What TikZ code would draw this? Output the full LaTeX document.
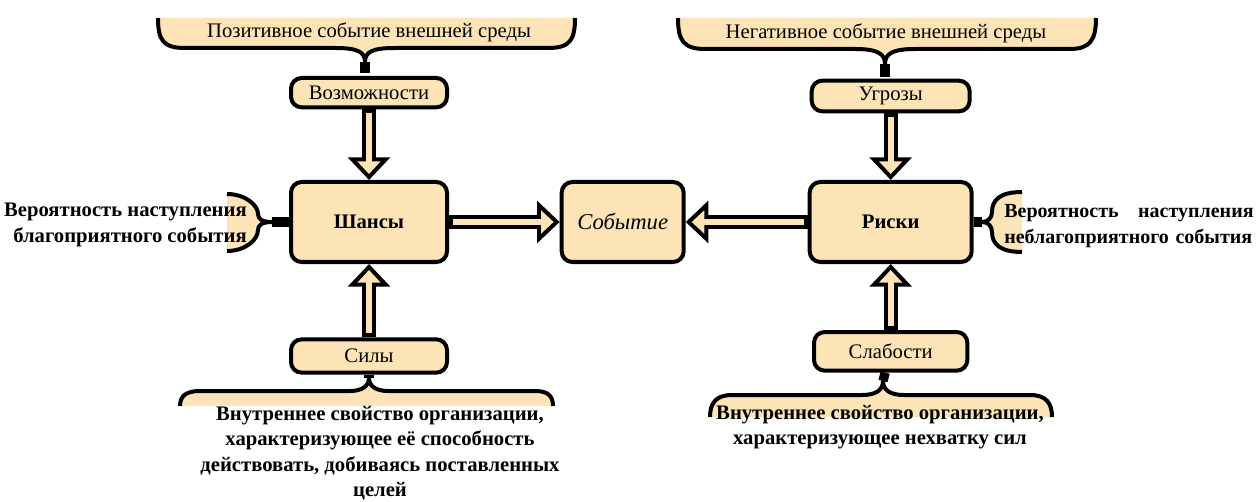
\documentclass[tikz,border=0pt]{standalone}
\usepackage{fontspec}
\setmainfont{Liberation Serif}
\newfontfamily\timesfont{Liberation Serif}
\usetikzlibrary{positioning,arrows.meta}
\definecolor{beige}{HTML}{FDE4B6}
\tikzset{
  box/.style={draw, line width=3pt, rounded corners=8pt, fill=beige, inner sep=0pt, font=\timesfont\fontsize{15.5}{18}\selectfont},
  hollow/.style={line width=10.5pt, -{Triangle[length=17pt, width=31pt]},
    postaction={draw=beige, line width=4.5pt, shorten <=3pt, shorten >=4.5pt, -{Triangle[length=9.5pt, width=17pt]}}},
  brace/.style={draw, fill=beige, line width=3pt, line join=round},
  stem/.style={line width=7pt},
  note/.style={font=\timesfont\bfseries\fontsize{15.5}{19}\selectfont, inner sep=0pt},
  label/.style={font=\timesfont\fontsize{15.5}{18}\selectfont, inner sep=0pt},
}

\begin{document}
\begin{tikzpicture}[x=0.75pt, y=-0.75pt]
  \useasboundingbox (0,0) rectangle (1259,502);

  % Braces
  \path[brace] (158,18) .. controls (158,40) and (163,48) .. (185,48) -- (335,48)
    .. controls (358,48) and (365,52) .. (365,62) .. controls (365,52) and (372,48) .. (395,48)
    -- (548,48) .. controls (570,48) and (575,40) .. (575,18);
  \path[brace] (678,18) .. controls (678,40) and (683,49) .. (705,49) -- (855,49)
    .. controls (878,49) and (885,54) .. (885,64) .. controls (885,54) and (892,49) .. (915,49)
    -- (1070,49) .. controls (1090,49) and (1096,40) .. (1096,18);
  \path[brace] (180,406) .. controls (180,396) and (186,391) .. (200,391) -- (350,391)
    .. controls (362,391) and (369,386) .. (369,378) .. controls (369,386) and (376,391) .. (388,391)
    -- (535,391) .. controls (548,391) and (553,396) .. (553,406);
  \path[brace] (710,417) .. controls (710,403) and (716,395) .. (732,395) -- (862,395)
    .. controls (876,395) and (883,390) .. (883,381) .. controls (883,390) and (890,395) .. (904,395)
    -- (1030,395) .. controls (1046,395) and (1052,403) .. (1052,417);
  \path[brace] (227,194) .. controls (245,194) and (258,205) .. (258,214)
    .. controls (258,219) and (262,222) .. (272,222) .. controls (262,222) and (258,225) .. (258,230)
    .. controls (258,240) and (245,251) .. (227,251);
  \path[brace] (1022,192) .. controls (1000,192) and (992,200) .. (992,212)
    .. controls (992,218) and (988,222) .. (982,222) .. controls (988,222) and (992,226) .. (992,232)
    .. controls (992,244) and (1000,252) .. (1022,252);
  \coordinate (tl) at (365,62);
  \coordinate (tr) at (885,64);
  \coordinate (bl) at (369,378);
  \coordinate (br) at (883,381);
  \coordinate (ml) at (272,222);
  \coordinate (mr) at (982,222);

  % Define nodes
  \node[box, minimum width=117pt, minimum height=60pt, font=\timesfont\fontsize{15.5}{18}\selectfont\bfseries] (chances) at (369,222) {Шансы};
  \node[box, right=83pt of chances, minimum width=91.5pt, minimum height=60pt, font=\timesfont\fontsize{17}{18}\selectfont\itshape] (event) {Событие};
  \node[box, right=91.5pt of event, minimum width=121.5pt, minimum height=60pt, font=\timesfont\fontsize{15.5}{18}\selectfont\bfseries] (risks) {Риски};
  \node[box, above=53pt of chances, minimum width=117pt, minimum height=22pt] (possib) {Возможности};
  \node[box, below=55pt of chances, minimum width=117pt, minimum height=25pt] (forces) {Силы};
  \node[box, above=50pt of risks, minimum width=118.5pt, minimum height=23pt] (threat) {Угрозы};
  \node[box, below=49.5pt of risks, minimum width=115pt, minimum height=29pt] (weak) {Слабости};

  % Stems
  \draw[stem] (tl) -- ++(0,11);
  \draw[stem] (tr) -- ++(0,13);
  \draw[stem] (forces) -- (bl);
  \draw[stem] (weak) -- (br);
  \draw[stem] (chances) -- (ml);
  \draw[stem] (risks) -- (mr);

  % Texts
  \node[label] (posev) at (369,32) {Позитивное событие внешней среды};
  \node[label] (negev) at (886,33) {Негативное событие внешней среды};
  \node[note, anchor=east, align=right] (goodprob) at (247,225) {Вероятность наступления\\благоприятного события};
  \node[note, anchor=west, align=left, text width=187pt, font=\timesfont\bfseries\fontsize{15}{19}\selectfont] (badprob) at (1004,226) {Вероятность\hfill наступления\\неблагоприятного события};
  \node[note, align=center, anchor=north] (strength) at (380,406) {Внутреннее свойство организации,\\характеризующее её способность\\действовать, добиваясь поставленных\\целей};
  \node[note, align=center, anchor=north] (weakness) at (880,405) {Внутреннее свойство организации,\\характеризующее нехватку сил};

  % Arrows
  \draw[hollow] (possib) -- (chances);
  \draw[hollow] (forces) -- (chances);
  \draw[hollow] (chances) -- (event);
  \draw[hollow] (risks) -- (event);
  \draw[hollow] (threat) -- (risks);
  \draw[hollow] (weak) -- (risks);
\end{tikzpicture}
\end{document}
